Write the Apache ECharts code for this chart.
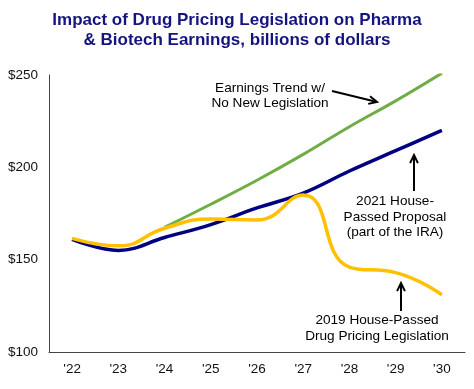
<!DOCTYPE html>
<html>
<head>
<meta charset="utf-8">
<script src="https://cdn.jsdelivr.net/npm/echarts@6/dist/echarts.min.js"></script>
<style>html,body{margin:0;padding:0;background:#fff}#c{width:474px;height:389px}</style>
</head>
<body>
<div id="c"></div>
<script>
var years = ["'22","'23","'24","'25","'26","'27","'28","'29","'30"];
var trendNoLegislation = [null, null, 167.5, 180, 193, 207, 222, 236, 251];
var proposal2021 = [161, 155, 162, 169, 178, 186, 198, 209, 220];
var legislation2019 = [161.5, 157.5, 167, 172, 171.5, 185, 146, 143, 131];
var yTicks = [100, 150, 200, 250];

var chart = echarts.init(document.getElementById('c'));
var font = 'Liberation Sans, Arial, sans-serif';
function arrow(x1, y1, x2, y2) {
  var a = Math.atan2(y2 - y1, x2 - x1), L = 9, w = 0.45;
  return [
    {type: 'line', shape: {x1: x1, y1: y1, x2: x2 - Math.cos(a) * 2, y2: y2 - Math.sin(a) * 2}, style: {stroke: '#000', lineWidth: 2}},
    {type: 'polyline', shape: {points: [[x2 - L * Math.cos(a - w), y2 - L * Math.sin(a - w)], [x2, y2], [x2 - L * Math.cos(a + w), y2 - L * Math.sin(a + w)]]}, style: {stroke: '#000', lineWidth: 2, fill: null}}
  ];
}
var g = [
  {type: 'text', left: 'center', top: 10, style: {text: 'Impact of Drug Pricing Legislation on Pharma\n& Biotech Earnings, billions of dollars', font: 'bold 17px ' + font, fill: '#14147f', textAlign: 'center', lineHeight: 20}},
  {type: 'text', x: 270, y: 96, style: {text: 'Earnings Trend w/\nNo New Legislation', font: '13.6px ' + font, fill: '#000', textAlign: 'center', textVerticalAlign: 'middle', lineHeight: 15}},
  {type: 'text', x: 395, y: 217, style: {text: '2021 House-\nPassed Proposal\n(part of the IRA)', font: '13.6px ' + font, fill: '#000', textAlign: 'center', textVerticalAlign: 'middle', lineHeight: 15.5}},
  {type: 'text', x: 377, y: 328, style: {text: '2019 House-Passed\nDrug Pricing Legislation', font: '13.6px ' + font, fill: '#000', textAlign: 'center', textVerticalAlign: 'middle', lineHeight: 16}}
].concat(arrow(332, 91, 377, 102), arrow(414, 191, 414, 155), arrow(401, 311, 401, 283));

chart.setOption({
  animation: false,
  grid: {left: 49, right: 9, top: 75, bottom: 37},
  xAxis: {
    type: 'category', data: years, boundaryGap: true,
    axisLine: {lineStyle: {color: '#444', width: 1}},
    axisTick: {show: false},
    axisLabel: {color: '#111', fontSize: 13.5, fontFamily: font, margin: 10}
  },
  yAxis: {
    type: 'value', min: 100, max: 250, interval: 50,
    axisLine: {show: true, lineStyle: {color: '#444', width: 1}},
    axisTick: {show: false},
    splitLine: {show: false},
    axisLabel: {color: '#111', fontSize: 13.5, fontFamily: font, margin: 11,
      formatter: function (v) { return yTicks.indexOf(v) >= 0 ? '$' + v : ''; }}
  },
  series: [
    {type: 'line', data: trendNoLegislation, smooth: 0.4, symbol: 'none', lineStyle: {color: '#70AD47', width: 3}, z: 2},
    {type: 'line', data: proposal2021, smooth: 0.4, symbol: 'none', lineStyle: {color: '#000080', width: 3.5}, z: 3},
    {type: 'line', data: legislation2019, smooth: 0.5, symbol: 'none', lineStyle: {color: '#FFC000', width: 3.5}, z: 4}
  ],
  graphic: g
});
</script>
</body>
</html>
